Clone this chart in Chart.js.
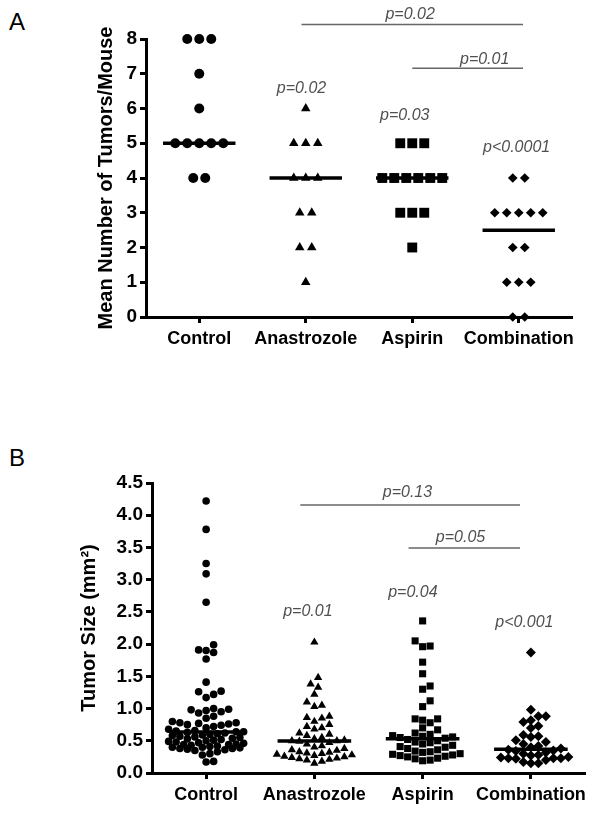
<!DOCTYPE html>
<html lang="en">
<head>
<meta charset="UTF-8">
<title>Tumor number and size by treatment</title>
<script src="https://cdn.jsdelivr.net/npm/chart.js@4"></script>
<style>
  body { margin: 0; background: #fff; font-family: "Liberation Sans", Arial, sans-serif; }
  .wrap { position: relative; width: 600px; height: 816px; }
  .wrap canvas { position: absolute; left: 0; }
  .letter { position: absolute; left: 9px; font-size: 24px; color: #000; line-height: 1; }
</style>
</head>
<body>
<div class="wrap">
  <div class="letter" style="top:10px">A</div>
  <canvas id="chartA" style="top:0" width="600" height="360"></canvas>
  <div class="letter" style="top:446px">B</div>
  <canvas id="chartB" style="top:440px" width="600" height="376"></canvas>
</div>

<script>
// groups and marker shapes
const groups = ["Control", "Anastrozole", "Aspirin", "Combination"];
const shapes = ["circle", "triangle", "rect", "rectRot"];

// panel A - mean number of tumors per mouse
const countControl = [8, 8, 8, 7, 6, 5, 5, 5, 5, 5, 4, 4];
const countAnastrozole = [6, 5, 5, 5, 4, 4, 4, 3, 3, 2, 2, 1];
const countAspirin = [5, 5, 5, 4, 4, 4, 4, 4, 4, 3, 3, 3, 2];
const countCombination = [4, 4, 3, 3, 3, 3, 3, 2, 2, 1, 1, 1, 0, 0];
const countTicks = [0, 1, 2, 3, 4, 5, 6, 7, 8];

// panel A - p values (x in group units, y in tumors)
const pTextA = ["p=0.02", "p=0.01", "p=0.02", "p=0.03", "p<0.0001"];
const pXA = [1.98, 2.68, 0.96, 1.93, 2.98];
const pYA = [8.69, 7.40, 6.56, 5.81, 4.89];
const barFromA = [0.96, 2.0];
const barToA = [3.04, 3.04];
const barYA = [8.42, 7.16];

// panel B - tumor size (mm2)
const sizeControl = [4.22, 3.78, 3.25, 3.09, 2.65, 1.99, 1.91, 1.90, 1.87, 1.77,
  1.41, 1.27, 1.26, 1.22, 1.17, 1.00, 0.99, 0.98, 0.97, 0.95, 0.93, 0.88, 0.85,
  0.80, 0.78, 0.78, 0.77, 0.76, 0.75, 0.74, 0.72, 0.70, 0.68, 0.66, 0.65, 0.64,
  0.64, 0.63, 0.62, 0.61, 0.60, 0.59, 0.58, 0.57, 0.56, 0.55, 0.54, 0.53, 0.52,
  0.51, 0.50, 0.49, 0.48, 0.47, 0.46, 0.45, 0.44, 0.44, 0.43, 0.42, 0.41, 0.40,
  0.40, 0.39, 0.38, 0.38, 0.37, 0.36, 0.35, 0.33, 0.30, 0.28, 0.18, 0.17];
const sizeAnastrozole = [2.03, 1.48, 1.38, 1.33, 1.22, 1.10, 1.05, 1.03, 0.88,
  0.86, 0.85, 0.80, 0.75, 0.72, 0.70, 0.68, 0.62, 0.60, 0.58, 0.55, 0.53, 0.51,
  0.50, 0.50, 0.49, 0.47, 0.45, 0.42, 0.40, 0.38, 0.36, 0.35, 0.33, 0.32, 0.31,
  0.30, 0.29, 0.28, 0.27, 0.26, 0.25, 0.24, 0.23, 0.22, 0.21, 0.20, 0.18, 0.15];
const sizeAspirin = [2.36, 2.05, 1.97, 1.96, 1.72, 1.54, 1.35, 1.30, 1.12, 1.03,
  0.84, 0.84, 0.82, 0.78, 0.70, 0.67, 0.62, 0.60, 0.58, 0.57, 0.56, 0.55, 0.54,
  0.52, 0.50, 0.48, 0.47, 0.45, 0.43, 0.41, 0.40, 0.38, 0.36, 0.34, 0.33, 0.32,
  0.30, 0.29, 0.28, 0.27, 0.26, 0.25, 0.23, 0.22, 0.20, 0.19];
const sizeCombination = [1.87, 0.98, 0.88, 0.88, 0.82, 0.79, 0.73, 0.70, 0.59,
  0.57, 0.56, 0.51, 0.48, 0.45, 0.42, 0.40, 0.38, 0.36, 0.35, 0.34, 0.32, 0.30,
  0.28, 0.27, 0.25, 0.24, 0.23, 0.23, 0.23, 0.22, 0.20, 0.17, 0.15, 0.15];
const sizeTicks = [0, 0.5, 1, 1.5, 2, 2.5, 3, 3.5, 4, 4.5];

// panel B - p values
const pTextB = ["p=0.13", "p=0.05", "p=0.01", "p=0.04", "p<0.001"];
const pXB = [1.86, 2.35, 0.94, 1.91, 2.94];
const pYB = [4.35, 3.65, 2.50, 2.80, 2.33];
const barFromB = [0.87, 1.87];
const barToB = [2.90, 2.90];
const barYB = [4.16, 3.49];

const FONT = '"Liberation Sans", Arial, sans-serif';

function median(a) {
  const s = [...a].sort((p, q) => p - q);
  const m = s.length >> 1;
  return s.length % 2 ? s[m] : (s[m - 1] + s[m]) / 2;
}

// p-value labels drawn through the scales
function pLabels(text, xs, ys) {
  return {
    id: "pLabels",
    afterDatasetsDraw(chart) {
      const { ctx, scales: { x, y } } = chart;
      ctx.save();
      ctx.font = "italic 16px " + FONT;
      ctx.fillStyle = "#505050";
      ctx.textAlign = "center";
      ctx.textBaseline = "middle";
      text.forEach((t, k) => ctx.fillText(t, x.getPixelForValue(xs[k]), y.getPixelForValue(ys[k])));
      ctx.restore();
    }
  };
}

function makePanel(id, o) {
  const datasets = [];
  o.series.forEach((vals, i) => {
    datasets.push({
      data: vals.map(v => ({ x: i, y: v })),
      pointStyle: shapes[i],
      pointRadius: o.radius[i],
      pointBackgroundColor: "#000",
      pointBorderWidth: 0,
      clip: false,
      order: 2
    });
  });
  o.series.forEach((vals, i) => {
    const m = median(vals);
    datasets.push({
      data: [{ x: i - 0.34, y: m }, { x: i + 0.34, y: m }],
      showLine: true, borderColor: "#000", borderWidth: 3.5, pointRadius: 0, order: 1
    });
  });
  o.barFrom.forEach((f, k) => {
    datasets.push({
      data: [{ x: f, y: o.barY[k] }, { x: o.barTo[k], y: o.barY[k] }],
      showLine: true, borderColor: "#666", borderWidth: 1.5, pointRadius: 0, clip: false, order: 1
    });
  });

  const chart = new Chart(document.getElementById(id), {
    type: "scatter",
    data: { datasets },
    plugins: [pLabels(o.pText, o.pX, o.pY)],
    options: {
      responsive: false,
      animation: false,
      events: [],
      layout: { padding: { top: o.top, right: o.right, left: 0, bottom: 0 } },
      plugins: { legend: { display: false }, tooltip: { enabled: false } },
      scales: {
        x: {
          type: "linear", min: -0.5, max: 3.5,
          afterBuildTicks: s => { s.ticks = groups.map((g, i) => ({ value: i })); },
          afterFit: s => { s.height = o.height - o.bottom; },
          border: { display: true, color: "#000", width: 3 },
          grid: { drawOnChartArea: false, tickLength: 6, tickWidth: 3, tickColor: "#000" },
          ticks: {
            autoSkip: false, maxRotation: 0, minRotation: 0, padding: 5,
            color: "#000", font: { family: FONT, size: 18, weight: "bold" },
            callback: v => groups[v]
          }
        },
        y: {
          min: 0, max: o.ticks[o.ticks.length - 1],
          afterBuildTicks: s => { s.ticks = o.ticks.map(v => ({ value: v })); },
          afterFit: s => { s.width = o.left; },
          border: { display: true, color: "#000", width: 3 },
          grid: { drawOnChartArea: false, tickLength: 6, tickWidth: 3, tickColor: "#000" },
          ticks: {
            padding: 3, color: "#000", font: { family: FONT, size: 19, weight: "bold" },
            callback: o.tickFmt
          },
          title: {
            display: true, text: o.yTitle, color: "#000",
            font: { family: FONT, size: 20, weight: "bold" },
            padding: { top: o.titleX - 12, bottom: 0 }
          }
        }
      }
    }
  });
  return chart;
}

// spread equal counts horizontally, centred on the group
function spreadRows(chart, series, step) {
  const xs = chart.scales.x;
  const unit = xs.getPixelForValue(1) - xs.getPixelForValue(0);
  series.forEach((vals, i) => {
    const rows = {};
    vals.forEach((v, j) => { (rows[v] = rows[v] || []).push(j); });
    const pts = chart.data.datasets[i].data;
    Object.values(rows).forEach(idx => {
      idx.forEach((j, n) => { pts[j].x = i + (n - (idx.length - 1) / 2) * step / unit; });
    });
  });
  chart.update("none");
}

// simple beeswarm in pixel space
function beeswarm(chart, series, d, s, maxOff) {
  const xs = chart.scales.x, ys = chart.scales.y;
  const unit = xs.getPixelForValue(1) - xs.getPixelForValue(0);
  series.forEach((vals, i) => {
    const placed = [];
    const pts = chart.data.datasets[i].data;
    const order = vals.map((v, j) => j).sort((a, b) => vals[a] - vals[b]);
    order.forEach(j => {
      const py = ys.getPixelForValue(vals[j]);
      let best = 0, bestScore = -1, done = false;
      for (let k = 0; k * s <= maxOff && !done; k++) {
        for (const sign of (k ? [1, -1] : [1])) {
          const ox = sign * k * s;
          let minD = Infinity;
          placed.forEach(p => { minD = Math.min(minD, Math.hypot(p.x - ox, p.y - py)); });
          if (minD >= d) { best = ox; done = true; break; }
          if (minD > bestScore) { bestScore = minD; best = ox; }
        }
      }
      placed.push({ x: best, y: py });
      pts[j].x = i + best / unit;
    });
  });
  chart.update("none");
}

const seriesA = [countControl, countAnastrozole, countAspirin, countCombination];
const chartA = makePanel("chartA", {
  series: seriesA, radius: [5, 5.5, 7, 4.8], ticks: countTicks,
  tickFmt: v => v, yTitle: "Mean Number of Tumors/Mouse",
  top: 39, bottom: 317, right: 28, left: 146, height: 360, titleX: 106,
  pText: pTextA, pX: pXA, pY: pYA, barFrom: barFromA, barTo: barToA, barY: barYA
});
spreadRows(chartA, seriesA, 12);

const seriesB = [sizeControl, sizeAnastrozole, sizeAspirin, sizeCombination];
const chartB = makePanel("chartB", {
  series: seriesB, radius: [3.8, 4.8, 5, 5], ticks: sizeTicks,
  tickFmt: v => v.toFixed(1), yTitle: "Tumor Size (mm²)",
  top: 43, bottom: 333, right: 15, left: 152, height: 376, titleX: 89,
  pText: pTextB, pX: pXB, pY: pYB, barFrom: barFromB, barTo: barToB, barY: barYB
});
beeswarm(chartB, seriesB, 7.5, 3.75, 40);
</script>
</body>
</html>
